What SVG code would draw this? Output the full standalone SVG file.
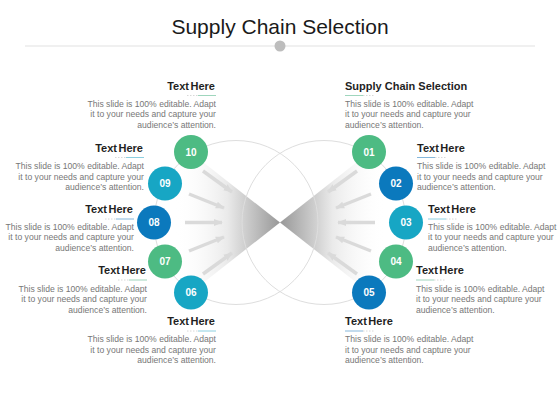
<svg xmlns="http://www.w3.org/2000/svg" width="560" height="420" viewBox="0 0 560 420">
<defs>
<linearGradient id="gl" x1="175" y1="0" x2="280" y2="0" gradientUnits="userSpaceOnUse">
<stop offset="0" stop-color="#ffffff" stop-opacity="0"/>
<stop offset="0.5" stop-color="#eaeaea"/>
<stop offset="1" stop-color="#989898"/>
</linearGradient>
<linearGradient id="gr" x1="385" y1="0" x2="280" y2="0" gradientUnits="userSpaceOnUse">
<stop offset="0" stop-color="#ffffff" stop-opacity="0"/>
<stop offset="0.5" stop-color="#eaeaea"/>
<stop offset="1" stop-color="#989898"/>
</linearGradient>
<marker id="ah" viewBox="0 0 10 10" refX="9" refY="5" markerWidth="9" markerHeight="9" markerUnits="userSpaceOnUse" orient="auto">
<path d="M0,1 L10,5 L0,9 Z" fill="#dadada"/>
</marker>
</defs>
<style>
.title{font-family:"Liberation Sans",Arial,sans-serif;font-size:21px;fill:#1a1a1a}
.h{font-family:"Liberation Sans",Arial,sans-serif;font-size:11px;font-weight:bold;fill:#1f1f1f}
.hw{word-spacing:-1.5px}
.b{font-family:"Liberation Sans",Arial,sans-serif;font-size:8.6px;fill:#777}
.l{text-anchor:end}
.n{font-family:"Liberation Sans",Arial,sans-serif;font-size:10px;font-weight:bold;fill:#fff;text-anchor:middle}
.big{fill:none;stroke:#dedede;stroke-width:1}
.arr{stroke:#dadada;stroke-width:3.5;fill:none;marker-end:url(#ah)}
.dot{stroke:#d8d8d8;stroke-width:1;stroke-dasharray:1.5 1.5}
.g{fill:#4dbb83}.t{fill:#17a6c4}.u{fill:#0b79bd}
.ug{stroke:#9fd6bd;stroke-width:1}.ut{stroke:#8ccfe0;stroke-width:1}.uu{stroke:#85b7db;stroke-width:1}
</style>
<rect width="560" height="420" fill="#fff"/>
<g id="title">
<text class="title" x="280" y="34" text-anchor="middle">Supply Chain Selection</text>
<line x1="25" y1="46" x2="535" y2="46" stroke="#e2e2e2" stroke-width="1.2"/>
<circle cx="280" cy="46" r="5.5" fill="#bdbdbd"/>
</g>
<g id="background">
<polygon points="175,140 280,222.5 175,305" fill="url(#gl)"/>
<polygon points="385,140 280,222.5 385,305" fill="url(#gr)"/>
<circle class="big" cx="236" cy="222.5" r="82"/>
<circle class="big" cx="324" cy="222.5" r="82"/>
</g>
<g id="connectors">
<line class="arr" x1="203" y1="171" x2="232" y2="192"/>
<line class="arr" x1="189" y1="194" x2="224" y2="208"/>
<line class="arr" x1="185" y1="222.5" x2="222" y2="222.5"/>
<line class="arr" x1="189" y1="251" x2="224" y2="237"/>
<line class="arr" x1="203" y1="274" x2="232" y2="253"/>
<line class="arr" x1="357" y1="171" x2="328" y2="192"/>
<line class="arr" x1="371" y1="194" x2="336" y2="208"/>
<line class="arr" x1="375" y1="222.5" x2="338" y2="222.5"/>
<line class="arr" x1="371" y1="251" x2="336" y2="237"/>
<line class="arr" x1="357" y1="274" x2="328" y2="253"/>
</g>
<g id="node10"><circle class="g" cx="191" cy="152" r="17"/><text class="n" x="191" y="155.5">10</text></g>
<g id="node09"><circle class="t" cx="165" cy="183.5" r="17"/><text class="n" x="165" y="187">09</text></g>
<g id="node08"><circle class="u" cx="154" cy="222.5" r="17"/><text class="n" x="154" y="226">08</text></g>
<g id="node07"><circle class="g" cx="165" cy="261.5" r="17"/><text class="n" x="165" y="265">07</text></g>
<g id="node06"><circle class="t" cx="191" cy="292.5" r="17"/><text class="n" x="191" y="296">06</text></g>
<g id="node01"><circle class="g" cx="369" cy="152" r="17"/><text class="n" x="369" y="155.5">01</text></g>
<g id="node02"><circle class="u" cx="396" cy="183.5" r="17"/><text class="n" x="396" y="187">02</text></g>
<g id="node03"><circle class="t" cx="406" cy="222.5" r="17"/><text class="n" x="406" y="226">03</text></g>
<g id="node04"><circle class="g" cx="396" cy="261.5" r="17"/><text class="n" x="396" y="265">04</text></g>
<g id="node05"><circle class="u" cx="369" cy="292.5" r="17"/><text class="n" x="369" y="296">05</text></g>
<g id="text10">
<text class="h hw l" x="215" y="90">Text Here</text>
<line class="dot" x1="187" y1="95.5" x2="198" y2="95.5"/><line class="ug" x1="198" y1="95.5" x2="216" y2="95.5"/>
<text class="b l" x="216" y="106.5">This slide is 100% editable.  Adapt</text>
<text class="b l" x="216" y="117">it to your needs and capture your</text>
<text class="b l" x="216" y="127.5">audience’s attention.</text>
</g>
<g id="text09">
<text class="h hw l" x="143" y="152">Text Here</text>
<line class="dot" x1="115" y1="157.5" x2="126" y2="157.5"/><line class="ut" x1="126" y1="157.5" x2="144" y2="157.5"/>
<text class="b l" x="144" y="169">This slide is 100% editable.  Adapt</text>
<text class="b l" x="144" y="179.5">it to your needs and capture your</text>
<text class="b l" x="144" y="190">audience’s attention.</text>
</g>
<g id="text08">
<text class="h hw l" x="133" y="213">Text Here</text>
<line class="dot" x1="105" y1="219" x2="116" y2="219"/><line class="uu" x1="116" y1="219" x2="134" y2="219"/>
<text class="b l" x="134" y="229.5">This slide is 100% editable.  Adapt</text>
<text class="b l" x="134" y="240">it to your needs and capture your</text>
<text class="b l" x="134" y="250.5">audience’s attention.</text>
</g>
<g id="text07">
<text class="h hw l" x="146" y="274">Text Here</text>
<line class="dot" x1="118" y1="280" x2="129" y2="280"/><line class="ug" x1="129" y1="280" x2="147" y2="280"/>
<text class="b l" x="147" y="291.5">This slide is 100% editable.  Adapt</text>
<text class="b l" x="147" y="302">it to your needs and capture your</text>
<text class="b l" x="147" y="312.5">audience’s attention.</text>
</g>
<g id="text06">
<text class="h hw l" x="215" y="325">Text Here</text>
<line class="dot" x1="187" y1="331" x2="198" y2="331"/><line class="ut" x1="198" y1="331" x2="216" y2="331"/>
<text class="b l" x="216" y="342">This slide is 100% editable.  Adapt</text>
<text class="b l" x="216" y="352.5">it to your needs and capture your</text>
<text class="b l" x="216" y="363">audience’s attention.</text>
</g>
<g id="text01">
<text class="h" x="345" y="90">Supply Chain Selection</text>
<line class="ug" x1="345" y1="95.5" x2="363" y2="95.5"/><line class="dot" x1="363" y1="95.5" x2="374" y2="95.5"/>
<text class="b" x="345" y="106.5">This slide is 100% editable.  Adapt</text>
<text class="b" x="345" y="117">it to your needs and capture your</text>
<text class="b" x="345" y="127.5">audience’s attention.</text>
</g>
<g id="text02">
<text class="h hw" x="417" y="152">Text Here</text>
<line class="uu" x1="417" y1="157.5" x2="435" y2="157.5"/><line class="dot" x1="435" y1="157.5" x2="446" y2="157.5"/>
<text class="b" x="417" y="169">This slide is 100% editable.  Adapt</text>
<text class="b" x="417" y="179.5">it to your needs and capture your</text>
<text class="b" x="417" y="190">audience’s attention.</text>
</g>
<g id="text03">
<text class="h hw" x="428" y="213">Text Here</text>
<line class="ut" x1="428" y1="219" x2="446" y2="219"/><line class="dot" x1="446" y1="219" x2="457" y2="219"/>
<text class="b" x="428" y="229.5">This slide is 100% editable.  Adapt</text>
<text class="b" x="428" y="240">it to your needs and capture your</text>
<text class="b" x="428" y="250.5">audience’s attention.</text>
</g>
<g id="text04">
<text class="h hw" x="416" y="274">Text Here</text>
<line class="ug" x1="416" y1="280" x2="434" y2="280"/><line class="dot" x1="434" y1="280" x2="445" y2="280"/>
<text class="b" x="416" y="291.5">This slide is 100% editable.  Adapt</text>
<text class="b" x="416" y="302">it to your needs and capture your</text>
<text class="b" x="416" y="312.5">audience’s attention.</text>
</g>
<g id="text05">
<text class="h hw" x="345" y="325">Text Here</text>
<line class="uu" x1="345" y1="331" x2="363" y2="331"/><line class="dot" x1="363" y1="331" x2="374" y2="331"/>
<text class="b" x="345" y="342">This slide is 100% editable.  Adapt</text>
<text class="b" x="345" y="352.5">it to your needs and capture your</text>
<text class="b" x="345" y="363">audience’s attention.</text>
</g>
</svg>
